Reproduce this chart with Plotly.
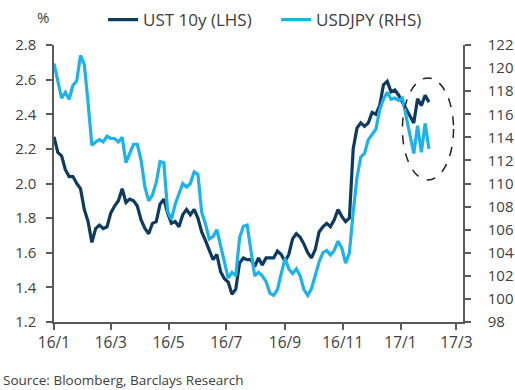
import plotly.graph_objects as go
import pandas as pd

# ---- data ----
START_DATE = "2016-01-01"
STEP = "4D"

ust_10y = [2.27, 2.18, 2.16, 2.08, 2.04, 2.04, 2.00, 1.97, 1.85, 1.78,
           1.66, 1.74, 1.76, 1.74, 1.75, 1.83, 1.87, 1.90, 1.97, 1.89,
           1.91, 1.90, 1.87, 1.79, 1.74, 1.71, 1.77, 1.78, 1.88, 1.91,
           1.83, 1.77, 1.78, 1.75, 1.82, 1.85, 1.82, 1.85, 1.80, 1.72,
           1.67, 1.61, 1.56, 1.59, 1.49, 1.45, 1.43, 1.36, 1.39, 1.54,
           1.57, 1.56, 1.56, 1.52, 1.57, 1.53, 1.57, 1.57, 1.57, 1.61,
           1.59, 1.55, 1.59, 1.68, 1.71, 1.69, 1.65, 1.60, 1.57, 1.62,
           1.72, 1.75, 1.77, 1.75, 1.79, 1.85, 1.81, 1.78, 1.80, 2.20,
           2.32, 2.35, 2.33, 2.35, 2.41, 2.40, 2.45, 2.57, 2.59, 2.53,
           2.54, 2.51, 2.47, 2.43, 2.39, 2.35, 2.49, 2.45, 2.51, 2.47]

usdjpy = [120.4, 118.8, 117.4, 117.9, 117.3, 118.5, 118.9, 121.1, 120.3, 117.0,
          113.3, 113.6, 113.8, 113.6, 114.1, 113.9, 113.9, 113.6, 114.0, 111.8,
          112.6, 113.4, 113.4, 112.0, 109.7, 108.5, 109.0, 110.1, 111.9, 111.8,
          107.6, 106.9, 108.2, 109.1, 110.0, 109.7, 110.0, 111.0, 110.8, 107.5,
          106.5, 105.2, 105.4, 106.0, 104.5, 103.2, 101.8, 102.3, 102.0, 105.3,
          106.3, 106.4, 104.0, 102.0, 102.3, 102.0, 101.5, 100.5, 100.3, 100.8,
          102.2, 103.5, 102.6, 102.2, 102.6, 102.0, 100.8, 100.3, 100.9, 102.0,
          103.2, 104.0, 104.2, 103.8, 104.2, 105.0, 104.4, 103.1, 104.0, 107.5,
          110.5, 112.3, 112.6, 113.8, 114.3, 114.7, 116.4, 117.3, 117.9, 117.3,
          117.4, 117.2, 117.4, 115.8, 114.5, 112.6, 115.0, 112.7, 115.2, 113.0]

x_tick_start = "2016-01-01"
x_tick_step = "M2"
x_tick_format = "%y/%-m"
left_ticks = [1.2, 1.4, 1.6, 1.8, 2.0, 2.2, 2.4, 2.6, 2.8]
right_ticks = [98, 100, 102, 104, 106, 108, 110, 112, 114, 116, 118, 120, 122]

dates = pd.date_range(START_DATE, periods=len(ust_10y), freq=STEP)

DARK = "#0c3a60"
LIGHT = "#1cb2ea"
AXIS = "#5a5a5a"
TXT = "#404040"
FONT = "Open Sans"

fig = go.Figure()
fig.add_trace(go.Scatter(x=dates, y=ust_10y, name="UST 10y (LHS)", mode="lines",
                         line=dict(color=DARK, width=3.2), yaxis="y"))
fig.add_trace(go.Scatter(x=dates, y=usdjpy, name="USDJPY (RHS)", mode="lines",
                         line=dict(color=LIGHT, width=3.2), yaxis="y2"))

axis_common = dict(showline=True, linecolor=AXIS, linewidth=1.5, ticks="outside",
                   ticklen=6, tickcolor=AXIS, tickwidth=1.5, showgrid=False,
                   zeroline=False, automargin=False,
                   tickfont=dict(family=FONT, size=15, color=TXT))

fig.update_layout(
    width=515, height=390,
    margin=dict(l=54, r=52, t=45, b=68, autoexpand=False),
    plot_bgcolor="white", paper_bgcolor="white",
    font=dict(family=FONT, size=15, color=TXT),
    xaxis=dict(range=["2016-01-01", "2017-03-08"], tickmode="linear",
               tick0=x_tick_start, dtick=x_tick_step, tickformat=x_tick_format,
               **{**axis_common, "tickfont": dict(family=FONT, size=15.5, color=TXT)}),
    yaxis=dict(range=[1.2, 2.8], tickvals=left_ticks, tickformat=".1f",
               ticklabelstandoff=7, **axis_common),
    yaxis2=dict(range=[98, 122], tickvals=right_ticks, overlaying="y", side="right",
                ticklabelstandoff=14, **axis_common),
    legend=dict(orientation="h", x=0.12, y=1.09, xanchor="left", yanchor="middle",
                entrywidth=128, entrywidthmode="pixels",
                font=dict(family=FONT, size=17, color=TXT), bgcolor="rgba(0,0,0,0)"),
    showlegend=True,
    shapes=[dict(type="circle", xref="x", yref="y", x0="2017-01-03", x1="2017-02-26",
                 y0=2.02, y1=2.61, line=dict(color="#222222", width=1.5, dash="dash"))],
    annotations=[
        dict(text="%", xref="paper", yref="paper", x=-0.028, y=1.101, showarrow=False,
             xanchor="center", yanchor="middle", font=dict(family=FONT, size=15, color=TXT)),
        dict(text="Source: Bloomberg, Barclays Research", xref="paper", yref="paper",
             x=-0.1306, y=-0.209, showarrow=False, xanchor="left", yanchor="middle",
             font=dict(family=FONT, size=13.5, color=TXT)),
    ],
)

fig.write_html("out.html", config={"displayModeBar": False},
               post_script="document.body.style.margin='0';")
